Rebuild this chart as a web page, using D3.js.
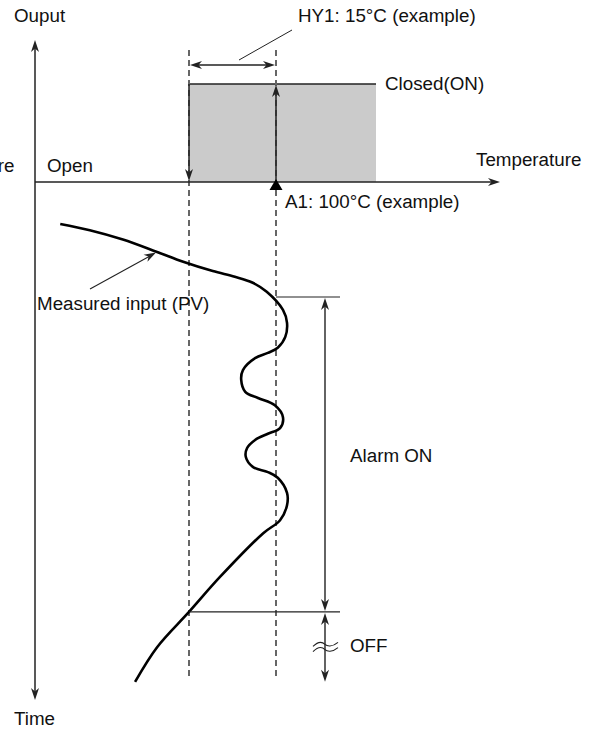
<!DOCTYPE html>
<html>
<head>
<meta charset="utf-8">
<script src="https://cdn.jsdelivr.net/npm/d3@7"></script>
<style>
  html, body { margin: 0; padding: 0; background: #fff; }
  svg { display: block; }
  text { font-family: "Liberation Sans", Arial, Helvetica, sans-serif; font-size: 18.8px; fill: #111; }
</style>
</head>
<body>
<script>
// ---------- data ----------
const setPoint = 100;          // A1 (°C)
const hysteresis = 15;         // HY1 (°C)
const outputStates = [0, 1];   // 0 = Open, 1 = Closed(ON)
// Measured input (PV): temperature (°C) and time (arbitrary units)
const pvTemp = [62.8, 67.9, 73.6, 79.5, 84.0, 89.1, 92.9, 95.9, 98.4, 101.2, 101.9, 101.6, 100.3, 98.6, 96.4, 94.3, 94.0,
                94.7, 96.9, 99.8, 101.2, 100.7, 98.6, 96.4, 95.0, 94.8, 96.0, 98.6, 100.3, 101.9, 101.9, 100.7, 97.8,
                90.3, 85.0, 79.5, 75.7];
const pvTime = [8.1, 9.3, 11.1, 13.5, 15.4, 17.2, 18.3, 19.4, 21.2, 24.7, 27.2, 29.9, 32.0, 33.0, 34.0, 36.3, 38.2,
                40.5, 41.7, 43.1, 45.4, 47.5, 48.6, 49.8, 51.4, 53.1, 55.0, 56.0, 57.1, 60.0, 62.4, 65.3, 67.8,
                76.3, 83.0, 89.8, 96.5];
const alarmOnTime = 22.2;
const alarmOffTime = 83.0;
const labels = {
  output: "Ouput", temp: "Temperature", time: "Time", cut: "re",
  open: "Open", closed: "Closed(ON)", hy: "HY1: 15°C (example)", a1: "A1: 100°C (example)",
  pv: "Measured input (PV)", alarmOn: "Alarm ON", off: "OFF"
};

// ---------- layout ----------
const W = 598, H = 729;
const svg = d3.select("body").append("svg").attr("width", W).attr("height", H);

const x = d3.scaleLinear().domain([setPoint - hysteresis, setPoint]).range([189, 276]);
const yOut = d3.scaleLinear().domain([0, 1]).range([182, 84]);
const yTime = d3.scaleLinear().domain([0, 100]).range([182, 700]);

const xAxis0 = 35, xAxisEnd = 500;
const ink = "#222";

function arrowHead(g, tx, ty, dir, len = 12, half = 4) {
  const ang = { up: -Math.PI / 2, down: Math.PI / 2, left: Math.PI, right: 0 }[dir];
  const c = Math.cos(ang), s = Math.sin(ang);
  const pt = (a, b) => [tx + a * c - b * s, ty + a * s + b * c];
  const p = [pt(0, 0), pt(-len, -half), pt(-len + 3.5, 0), pt(-len, half)];
  g.append("path").attr("d", "M" + p.map(d => d.join(",")).join("L") + "Z").attr("fill", ink);
}
function line(g, x1, y1, x2, y2, w = 1.4, col = ink) {
  return g.append("line").attr("x1", x1).attr("y1", y1).attr("x2", x2).attr("y2", y2)
    .attr("stroke", col).attr("stroke-width", w);
}

const g = svg.append("g");

// gray ON region
const xHigh = x(setPoint) + 100;
g.append("rect").attr("x", x(setPoint - hysteresis)).attr("y", yOut(1))
  .attr("width", xHigh - x(setPoint - hysteresis)).attr("height", yOut(0) - yOut(1))
  .attr("fill", "#cbcbcb");
line(g, x(setPoint - hysteresis), yOut(1), xHigh, yOut(1), 1.5);

// dashed threshold lines
[setPoint - hysteresis, setPoint].forEach(v => {
  line(g, x(v), 50, x(v), yTime(95.9), 2, "#666").attr("stroke-dasharray", "6,4");
});

// axes
line(g, xAxis0, 44, xAxis0, 696, 1.5);
arrowHead(g, xAxis0, 40, "up");
arrowHead(g, xAxis0, 700, "down");
line(g, xAxis0, yOut(0), xAxisEnd - 4, yOut(0), 1.5);
arrowHead(g, xAxisEnd, yOut(0), "right");

// hysteresis transition arrows
line(g, x(setPoint - hysteresis), yOut(1), x(setPoint - hysteresis), yOut(0) - 6, 1.5);
arrowHead(g, x(setPoint - hysteresis), yOut(0) - 1, "down");
line(g, x(setPoint), yOut(0), x(setPoint), yOut(1) + 6, 1.5);
arrowHead(g, x(setPoint), yOut(1) + 1, "up");

// A1 marker triangle
g.append("path").attr("d", d3.line()([[x(setPoint), 179], [x(setPoint) - 6.5, 190], [x(setPoint) + 6.5, 190]]) + "Z")
  .attr("fill", "#000");

// HY1 width arrow
const hyY = 65;
line(g, x(setPoint - hysteresis) + 6, hyY, x(setPoint) - 6, hyY, 1.3);
arrowHead(g, x(setPoint - hysteresis) + 1, hyY, "left");
arrowHead(g, x(setPoint) - 1, hyY, "right");
line(g, 239, 60, 292, 30, 1);

// PV curve
const pv = pvTemp.map((t, i) => [x(t), yTime(pvTime[i])]);
g.append("path").attr("d", d3.line().curve(d3.curveCatmullRom.alpha(0.5))(pv))
  .attr("fill", "none").attr("stroke", "#000").attr("stroke-width", 2.6).attr("stroke-linecap", "butt");

// PV leader arrow
line(g, 90, 289, 150, 256, 1.1);
(function () {
  const tx = 156, ty = 252.5, ang = Math.atan2(252.5 - 289, 156 - 90);
  const c = Math.cos(ang), s = Math.sin(ang);
  const pt = (a, b) => [tx + a * c - b * s, ty + a * s + b * c];
  const p = [pt(0, 0), pt(-12, -4), pt(-8.5, 0), pt(-12, 4)];
  g.append("path").attr("d", "M" + p.map(d => d.join(",")).join("L") + "Z").attr("fill", ink);
})();

// alarm ON/OFF brackets
const xB = 325, xLineEnd = 340;
line(g, x(setPoint), yTime(alarmOnTime), xLineEnd, yTime(alarmOnTime), 1.2);
line(g, x(setPoint - hysteresis), yTime(alarmOffTime), xLineEnd, yTime(alarmOffTime), 1.2);
line(g, xB, yTime(alarmOnTime) + 6, xB, yTime(alarmOffTime) - 6, 1.4);
arrowHead(g, xB, yTime(alarmOnTime) + 1, "up");
arrowHead(g, xB, yTime(alarmOffTime) - 1, "down");
line(g, xB, yTime(alarmOffTime) + 6, xB, yTime(96.5) - 6, 1.4);
arrowHead(g, xB, yTime(alarmOffTime) + 1, "up");
arrowHead(g, xB, yTime(96.5), "down");
// break mark
[-2.6, 2.6].forEach(dy => {
  const yb = 647 + dy;
  g.append("path")
    .attr("d", `M${xB - 12},${yb + 2} C${xB - 6},${yb - 4} ${xB - 2},${yb - 2} ${xB},${yb} S${xB + 7},${yb + 3} ${xB + 13},${yb - 2}`)
    .attr("fill", "none").attr("stroke", ink).attr("stroke-width", 1.1);
});

// labels
const T = (s, tx, ty, anchor = "start") => svg.append("text").attr("x", tx).attr("y", ty).attr("text-anchor", anchor).text(s);
T(labels.output, 14, 22);
T(labels.hy, 298, 22);
T(labels.closed, 385, 90);
T(labels.cut, 14.5, 172, "end");
T(labels.open, 47, 172);
T(labels.temp, 476, 166);
T(labels.a1, 285, 208);
T(labels.pv, 37, 310);
T(labels.alarmOn, 350, 462);
T(labels.off, 350, 652);
T(labels.time, 14, 725);
</script>
</body>
</html>
